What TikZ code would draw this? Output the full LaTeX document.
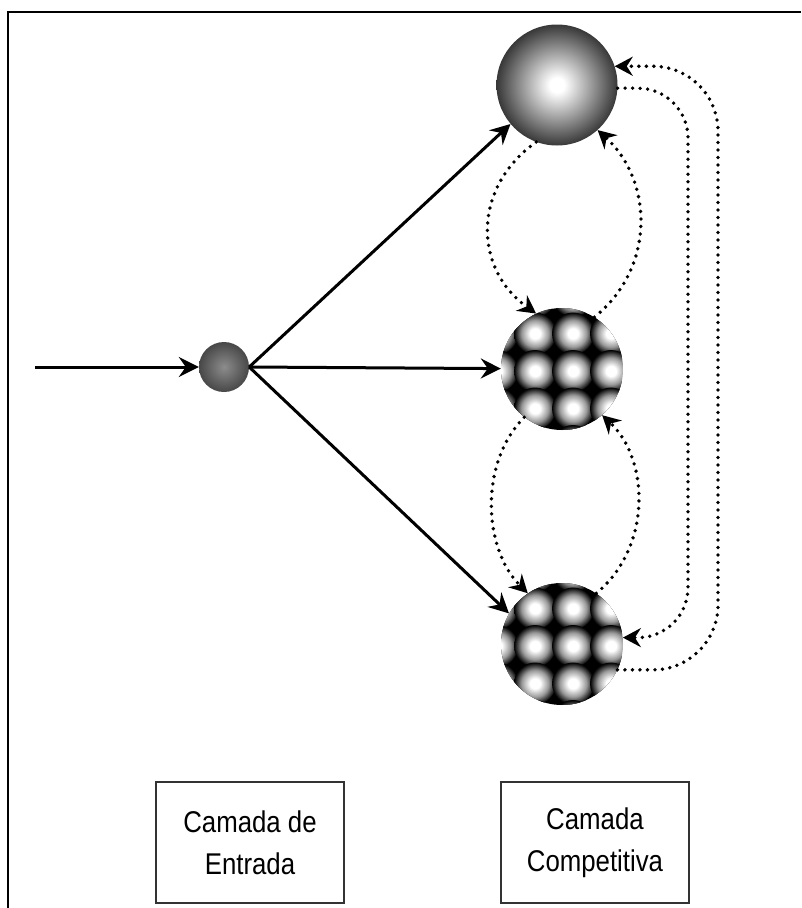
\documentclass[tikz,border=0pt]{standalone}
\usepackage{fontspec}
\usepackage{tikz}
\usetikzlibrary{arrows.meta,positioning,calc}
\newfontfamily\boxfont[FakeStretch=0.86]{Liberation Sans}
\pgfdeclareradialshading{blob}{\pgfpoint{0bp}{0bp}}{color(0bp)=(white); color(6bp)=(white); color(16bp)=(black!40); color(25bp)=(black); color(50bp)=(black)}
\pgfdeclareradialshading{bigball}{\pgfpoint{0bp}{0bp}}{color(0bp)=(white); color(3bp)=(white); color(25bp)=(black!78); color(50bp)=(black!78)}

\begin{document}
\begin{tikzpicture}[
    x=1pt, y=-1pt,
    inputcell/.style={circle, minimum size=50pt, inner sep=0pt, shading=radial, inner color=black!45, outer color=black!72},
    bigcell/.style={circle, minimum size=121pt, inner sep=0pt, shading=bigball},
    gridcell/.style={circle, minimum size=122pt, inner sep=0pt,
      path picture={
        \fill[black] (path picture bounding box.south west) rectangle (path picture bounding box.north east);
        \begin{scope}[shift={(path picture bounding box.center)}]
          \foreach \i in {-2,...,2}
            \foreach \j in {-2,...,2}
              \shade[shading=blob] (\i*38+11, \j*37.5+2) circle (21);
        \end{scope}}},
    layerbox/.style={rectangle, draw=black!80, line width=1.5pt, minimum width=188pt, minimum height=121pt, align=center, font=\boxfont\fontsize{30}{42}\selectfont},
    link/.style={-{Stealth[length=20pt, width=20pt, inset=7pt]}, line width=3pt},
    feedback/.style={-{Stealth[length=18pt, width=19pt, inset=6pt]}, line width=3.8pt, line cap=round, dash pattern=on 0pt off 7.5pt}
  ]
    \useasboundingbox (0,0) rectangle (801,908);
    \draw[line width=2.5pt] (8,908) -- (8,12) -- (801,12);

    \node[inputcell] (s) at (224,367) {};
    \node[bigcell] (c1) at (557,85) {};
    \node[gridcell] (c2) at (562,369) {};
    \node[gridcell] (c3) at (562,644) {};
    \node[layerbox] (l1) at (250,842.5) {Camada de\\Entrada};
    \node[layerbox] (l2) at (595,842.5) {Camada\\Competitiva};

    \coordinate (in) at (35,367);
    \coordinate (inner) at (688,362);
    \coordinate (outer) at (718,362);

    \draw[link] (in) -- (s);
    \draw[link] (s.east) -- (c1.220);
    \draw[link] (s.east) -- (c2);
    \draw[link] (s.east) -- (c3.150);

    \draw[feedback] (c1.250) .. controls +(-64,45) and +(-63,-45) .. (c2.115);
    \draw[feedback] (c2.58) .. controls +(62,-50) and +(55,50) .. (c1.312);
    \draw[feedback] (c2.232) .. controls +(-45,45) and +(-45,-45) .. (c3.124);
    \draw[feedback] (c3.56) .. controls +(55,-45) and +(48,45) .. (c2.311);
    \draw[feedback, rounded corners=50pt] (c1.357) -| (inner) |- (c3.6);
    \draw[feedback, rounded corners=65pt] (c3.335) -| (outer) |- (c1.18);
  \end{tikzpicture}
\end{document}
